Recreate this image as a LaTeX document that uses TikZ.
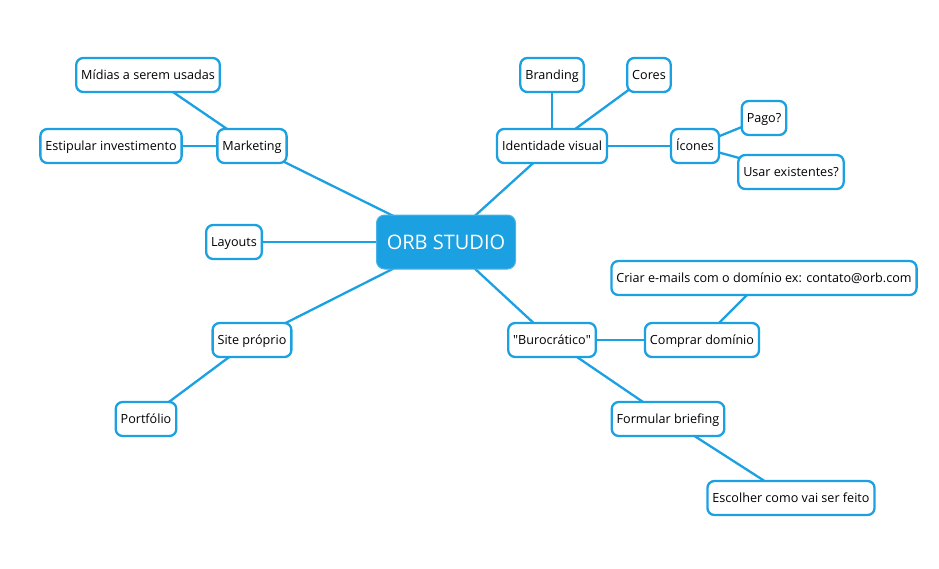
\documentclass[tikz,border=0pt]{standalone}
\usepackage{fontspec}
\setmainfont{Open Sans}
\definecolor{mapblue}{RGB}{27,161,226}
\usepackage{tikz}
\usetikzlibrary{backgrounds}

\begin{document}
\begin{tikzpicture}[x=1pt,y=-1pt,
    topic/.style={draw=mapblue, line width=2.3pt, fill=white, rounded corners=7pt,
      minimum height=34pt, inner xsep=5pt, text height=11.5pt, text depth=2pt,
      font=\fontsize{12.6}{15}\selectfont},
    central/.style={fill=mapblue, draw=mapblue!80!white, line width=1pt, rounded corners=8pt,
      minimum height=54pt, minimum width=139pt, text=white, font=\fontsize{20}{24}\selectfont},
    branch/.style={mapblue, line width=2.3pt}]
  % Canvas
  \useasboundingbox (0,0) rectangle (939,568);
  % Central topic
  \node[central] (orb) at (446,242) {ORB STUDIO};
  % Left side
  \node[topic] (marketing) at (252,146) {Marketing};
  \node[topic] (midias) at (148,75) {Mídias a serem usadas};
  \node[topic] (investimento) at (111,146) {Estipular investimento};
  \node[topic] (layouts) at (234,242) {Layouts};
  \node[topic] (site) at (252,340) {Site próprio};
  \node[topic] (portfolio) at (146,419) {Portfólio};
  % Right side
  \node[topic] (identidade) at (552,146) {Identidade visual};
  \node[topic] (branding) at (552,75) {Branding};
  \node[topic] (cores) at (649,75) {Cores};
  \node[topic] (icones) at (695,146) {Ícones};
  \node[topic] (pago) at (764,118) {Pago?};
  \node[topic] (existentes) at (791,172) {Usar existentes?};
  \node[topic] (burocratico) at (552,340) {\textquotedbl Burocrático\textquotedbl};
  \node[topic] (dominio) at (702,340) {Comprar domínio};
  \node[topic] (emails) at (764,278) {Criar e-mails com o domínio ex: contato@orb.com};
  \node[topic] (briefing) at (668,419) {Formular briefing};
  \node[topic] (escolher) at (791,498) {Escolher como vai ser feito};
  % Connectors (drawn behind the boxes)
  \begin{scope}[on background layer]
    \foreach \a/\b in {orb/marketing, marketing/midias, marketing/investimento,
        orb/layouts, orb/site, site/portfolio,
        orb/identidade, identidade/branding, identidade/cores, identidade/icones,
        icones/pago, icones/existentes,
        orb/burocratico, burocratico/dominio, dominio/emails,
        burocratico/briefing, briefing/escolher}
      \draw[branch] (\a.center) -- (\b.center);
  \end{scope}
\end{tikzpicture}
\end{document}
